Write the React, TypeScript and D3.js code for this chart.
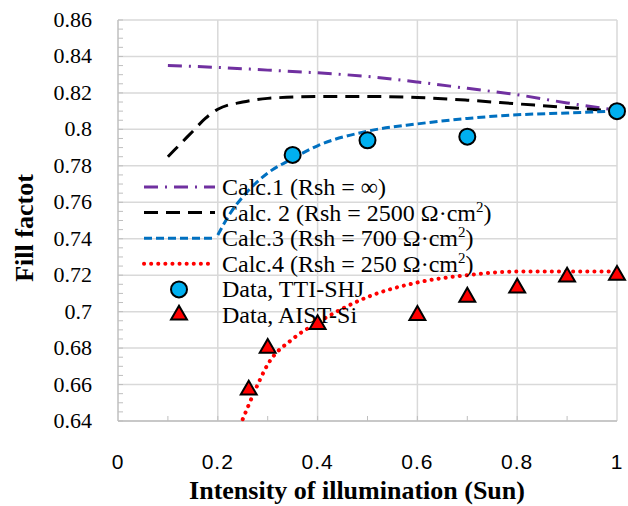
import React, { useRef, useEffect } from "react";
import * as d3 from "d3";

// curves (calculated)
const calc1X = [0.1, 0.2, 0.3, 0.4, 0.5, 0.6, 0.7, 0.8, 0.9, 1.0];
const calc1Y = [0.835, 0.834, 0.8325, 0.831, 0.829, 0.826, 0.8225, 0.819, 0.8145, 0.8105];

const calc2X = [0.1, 0.125, 0.15, 0.175, 0.2, 0.25, 0.3, 0.4, 0.5, 0.6, 0.7, 0.8, 0.9, 1.0];
const calc2Y = [0.785, 0.792, 0.799, 0.806, 0.811, 0.815, 0.817, 0.818, 0.818, 0.8175, 0.816, 0.814, 0.812, 0.81];

const calc3X = [0.2, 0.225, 0.25, 0.3, 0.35, 0.4, 0.5, 0.6, 0.7, 0.8, 0.9, 1.0];
const calc3Y = [0.742, 0.754, 0.763, 0.776, 0.784, 0.791, 0.799, 0.803, 0.806, 0.808, 0.809, 0.81];

const calc4X = [0.25, 0.275, 0.3, 0.35, 0.4, 0.5, 0.6, 0.7, 0.8, 0.9, 1.0];
const calc4Y = [0.641, 0.657, 0.671, 0.685, 0.694, 0.708, 0.716, 0.72, 0.722, 0.722, 0.722];

// measured data
const shjX = [0.35, 0.5, 0.7, 1.0];
const shjY = [0.786, 0.794, 0.796, 0.81];

const aistX = [0.262, 0.3, 0.4, 0.6, 0.7, 0.8, 0.9, 1.0];
const aistY = [0.657, 0.68, 0.693, 0.698, 0.708, 0.713, 0.719, 0.72];

const xTicks = [0, 0.2, 0.4, 0.6, 0.8, 1];
const yTicks = [0.64, 0.66, 0.68, 0.7, 0.72, 0.74, 0.76, 0.78, 0.8, 0.82, 0.84, 0.86];

const legendItems = [
  { key: "c1", label: "Calc.1 (Rsh = \u221E)", sup: false },
  { key: "c2", label: "Calc. 2 (Rsh = 2500 \u03A9\u00B7cm", sup: true },
  { key: "c3", label: "Calc.3 (Rsh = 700 \u03A9\u00B7cm", sup: true },
  { key: "c4", label: "Calc.4 (Rsh = 250 \u03A9\u00B7cm", sup: true },
  { key: "shj", label: "Data, TTI-SHJ", sup: false },
  { key: "aist", label: "Data, AIST-Si", sup: false },
];

const serif = "'Liberation Serif', 'Times New Roman', 'DejaVu Serif', serif";
const sans = "'Liberation Sans', Arial, sans-serif";

const zip = (xs: number[], ys: number[]) => xs.map((x, i) => ({ x, y: ys[i] }));

const App = () => {
  const svgRef = useRef<SVGSVGElement>(null);

  useEffect(() => {
    const svg = d3.select(svgRef.current);
    svg.selectAll("*").remove();

    const left = 118, right = 617, top = 20, bottom = 421;

    const x = d3.scaleLinear().domain([0, 1]).range([left, right]);
    const y = d3.scaleLinear().domain([0.64, 0.86]).range([bottom, top]);

    const g = svg.append("g");

    // gridlines
    g.selectAll(".hgrid")
      .data(yTicks)
      .enter()
      .append("line")
      .attr("x1", left)
      .attr("x2", right)
      .attr("y1", (d) => y(d))
      .attr("y2", (d) => y(d))
      .attr("stroke", "#d9d9d9")
      .attr("stroke-width", 1.5);

    g.selectAll(".vgrid")
      .data(xTicks.slice(1))
      .enter()
      .append("line")
      .attr("x1", (d) => x(d))
      .attr("x2", (d) => x(d))
      .attr("y1", top)
      .attr("y2", bottom)
      .attr("stroke", "#d9d9d9")
      .attr("stroke-width", 1.5);

    // axis lines
    g.append("line")
      .attr("x1", left).attr("x2", left)
      .attr("y1", top).attr("y2", bottom)
      .attr("stroke", "#bfbfbf").attr("stroke-width", 1.5);
    g.append("line")
      .attr("x1", left).attr("x2", right)
      .attr("y1", bottom).attr("y2", bottom)
      .attr("stroke", "#bfbfbf").attr("stroke-width", 1.5);

    // minor ticks
    const yMinor = d3.range(0, 45).map((i) => 0.64 + i * 0.005);
    g.selectAll(".ymin")
      .data(yMinor)
      .enter()
      .append("line")
      .attr("x1", left)
      .attr("x2", left + 5)
      .attr("y1", (d) => y(d))
      .attr("y2", (d) => y(d))
      .attr("stroke", "#bfbfbf")
      .attr("stroke-width", 1);
    const xMinor = d3.range(1, 10).map((i) => i * 0.1);
    g.selectAll(".xmin")
      .data(xMinor)
      .enter()
      .append("line")
      .attr("x1", (d) => x(d))
      .attr("x2", (d) => x(d))
      .attr("y1", bottom)
      .attr("y2", bottom - 5)
      .attr("stroke", "#bfbfbf")
      .attr("stroke-width", 1);

    // tick labels
    g.selectAll(".ylab")
      .data(yTicks)
      .enter()
      .append("text")
      .attr("x", 92)
      .attr("y", (d) => y(d) + 7)
      .attr("text-anchor", "end")
      .attr("font-family", serif)
      .attr("font-size", 22)
      .text((d) => String(+d.toFixed(2)));

    g.selectAll(".xlab")
      .data(xTicks)
      .enter()
      .append("text")
      .attr("x", (d) => x(d))
      .attr("y", 469)
      .attr("text-anchor", "middle")
      .attr("font-family", sans)
      .attr("font-size", 21)
      .attr("letter-spacing", 1)
      .text((d) => String(d));

    // axis titles
    svg.append("text")
      .attr("x", 357)
      .attr("y", 499)
      .attr("text-anchor", "middle")
      .attr("font-family", serif)
      .attr("font-weight", "bold")
      .attr("font-size", 26)
      .text("Intensity of illumination (Sun)");

    svg.append("text")
      .attr("transform", "translate(33,228) rotate(-90)")
      .attr("text-anchor", "middle")
      .attr("font-family", serif)
      .attr("font-weight", "bold")
      .attr("font-size", 26)
      .text("Fill factot");

    const line = d3
      .line<{ x: number; y: number }>()
      .x((d) => x(d.x))
      .y((d) => y(d.y))
      .curve(d3.curveMonotoneX);

    const styles: Record<string, { color: string; dash: string; cap: string; width: number }> = {
      c1: { color: "#7030a0", dash: "14,7,2,7", cap: "butt", width: 3 },
      c2: { color: "#000000", dash: "14,8", cap: "butt", width: 3 },
      c3: { color: "#0070c0", dash: "8,4", cap: "butt", width: 3 },
      c4: { color: "#ff0000", dash: "0.1,7", cap: "round", width: 4 },
    };

    const curves: [string, number[], number[]][] = [
      ["c1", calc1X, calc1Y],
      ["c2", calc2X, calc2Y],
      ["c3", calc3X, calc3Y],
      ["c4", calc4X, calc4Y],
    ];

    curves.forEach(([k, xs, ys]) => {
      const s = styles[k];
      g.append("path")
        .datum(zip(xs, ys))
        .attr("fill", "none")
        .attr("stroke", s.color)
        .attr("stroke-width", s.width)
        .attr("stroke-dasharray", s.dash)
        .attr("stroke-linecap", s.cap)
        .attr("d", line);
    });

    const tri = d3.symbol().type(d3.symbolTriangle).size(110);

    const drawCircle = (sel: any, cx: number, cy: number) =>
      sel.append("circle")
        .attr("cx", cx)
        .attr("cy", cy)
        .attr("r", 8)
        .attr("fill", "#00b0f0")
        .attr("stroke", "#000")
        .attr("stroke-width", 2);

    const drawTri = (sel: any, cx: number, cy: number) =>
      sel.append("path")
        .attr("d", tri())
        .attr("transform", `translate(${cx},${cy})`)
        .attr("fill", "#ff0000")
        .attr("stroke", "#000")
        .attr("stroke-width", 2)
        .attr("stroke-linejoin", "miter");

    zip(aistX, aistY).forEach((d) => drawTri(g, x(d.x), y(d.y)));
    zip(shjX, shjY).forEach((d) => drawCircle(g, x(d.x), y(d.y)));

    // legend
    const leg = svg.append("g");
    legendItems.forEach((it, i) => {
      const cy = 187 + i * 25.6;
      if (styles[it.key]) {
        const s = styles[it.key];
        leg.append("line")
          .attr("x1", 144)
          .attr("x2", 215)
          .attr("y1", cy)
          .attr("y2", cy)
          .attr("stroke", s.color)
          .attr("stroke-width", s.width)
          .attr("stroke-dasharray", s.dash)
          .attr("stroke-linecap", s.cap);
      } else if (it.key === "shj") {
        drawCircle(leg, 179, cy);
      } else {
        drawTri(leg, 179, cy);
      }
      const t = leg.append("text")
        .attr("x", 222)
        .attr("y", cy + 8)
        .attr("font-family", serif)
        .attr("font-size", 24)
        .text(it.label);
      if (it.sup) {
        t.append("tspan").attr("font-size", 15).attr("dy", -9).text("2");
        t.append("tspan").attr("dy", 9).text(")");
      }
    });
  }, []);

  return (
    <svg
      ref={svgRef}
      width={628}
      height={506}
      style={{ position: "absolute", left: 0, top: 0, background: "#fff" }}
    />
  );
};

export default App;
